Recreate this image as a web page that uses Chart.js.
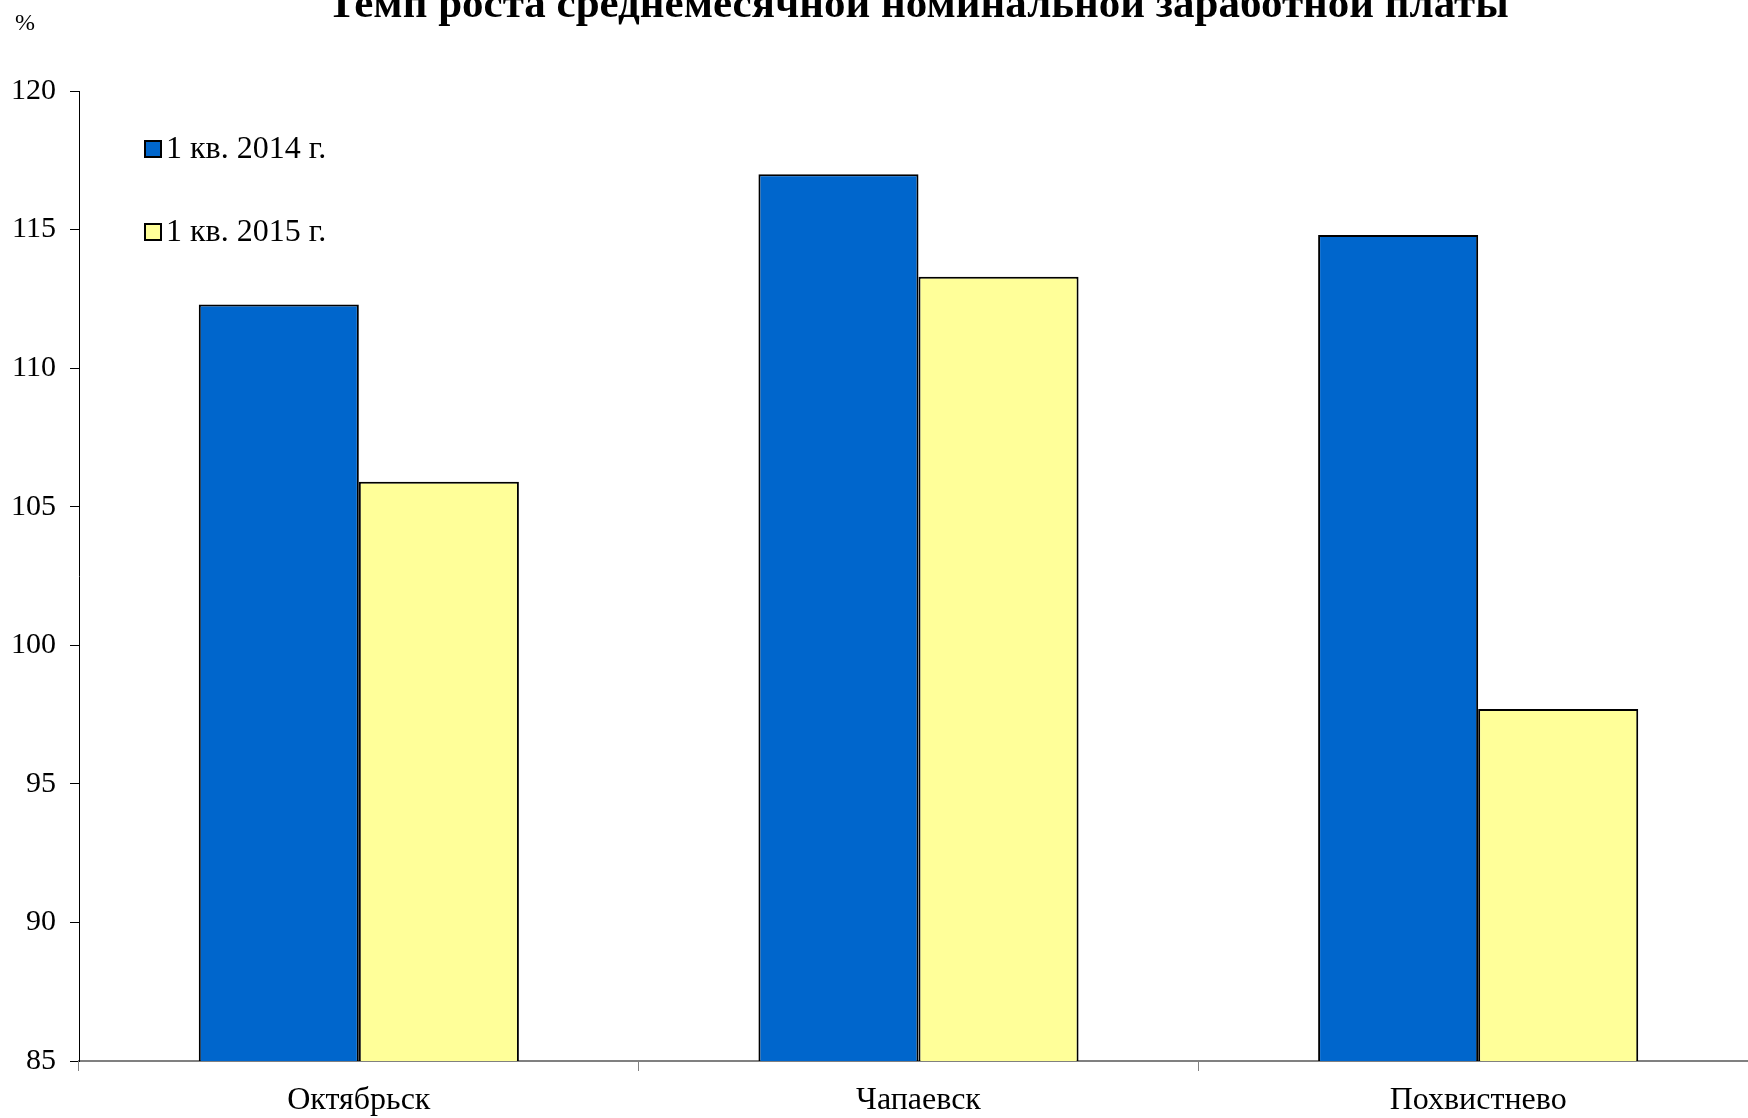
<!DOCTYPE html>
<html>
<head>
<meta charset="utf-8">
<script src="https://cdn.jsdelivr.net/npm/chart.js@4"></script>
<style>
  html, body { margin: 0; padding: 0; background: #fff; overflow: hidden; }
  #wrap { width: 1748px; height: 1118px; overflow: hidden; }
</style>
</head>
<body>
<div id="wrap"><canvas id="wageChart" width="1758" height="1118"></canvas></div>
<script>
const cities = ['Октябрьск', 'Чапаевск', 'Похвистнево'];
const q1_2014 = [112.3, 117.0, 114.8];
const q1_2015 = [105.9, 113.3, 97.7];
const seriesNames = ['1 кв. 2014 г.', '1 кв. 2015 г.'];
const titleText = 'Темп роста среднемесячной номинальной заработной платы';

const FONT = '"Liberation Serif", "Times New Roman", serif';

// title, "%" and the in-plot legend
const decorations = {
    id: 'decorations',
    afterDraw(chart) {
        const ctx = chart.ctx;
        ctx.save();
        ctx.fillStyle = '#000';
        ctx.font = 'bold 43px ' + FONT;
        ctx.textAlign = 'center';
        ctx.textBaseline = 'alphabetic';
        ctx.fillText(titleText, 918, 17);

        ctx.font = '24px ' + FONT;
        ctx.textAlign = 'left';
        ctx.fillText('%', 15, 30);

        ctx.font = '32px ' + FONT;
        ctx.textBaseline = 'middle';
        const rows = [149, 232];
        chart.data.datasets.forEach((ds, i) => {
            const y = rows[i];
            ctx.fillStyle = ds.backgroundColor;
            ctx.fillRect(145, y - 8, 16, 16);
            ctx.strokeStyle = '#000';
            ctx.lineWidth = 2;
            ctx.strokeRect(145, y - 8, 16, 16);
            ctx.fillStyle = '#000';
            ctx.fillText(ds.label, 166, y + 1);
        });
        ctx.restore();
    }
};

new Chart(document.getElementById('wageChart').getContext('2d'), {
    type: 'bar',
    data: {
        labels: cities,
        datasets: [{
            label: seriesNames[0],
            data: q1_2014,
            backgroundColor: '#0066CC',
            borderColor: '#000',
            borderWidth: 2
        }, {
            label: seriesNames[1],
            data: q1_2015,
            backgroundColor: '#FFFF99',
            borderColor: '#000',
            borderWidth: 2
        }]
    },
    options: {
        responsive: false,
        animation: false,
        layout: { padding: { top: 91, right: 0, left: 0, bottom: 0 } },
        datasets: {
            bar: { categoryPercentage: 0.572, barPercentage: 1.0 }
        },
        plugins: {
            legend: { display: false },
            tooltip: { enabled: false }
        },
        scales: {
            x: {
                grid: { display: true, drawOnChartArea: false, tickLength: 10, color: '#808080', offset: true },
                border: { color: '#808080', width: 2 },
                ticks: { color: '#000', font: { family: FONT, size: 32 }, padding: 10 },
                afterFit(scale) { scale.height = 57; }
            },
            y: {
                min: 85,
                max: 120,
                grid: { display: true, drawOnChartArea: false, tickLength: 9, color: '#000' },
                border: { color: '#000', width: 1 },
                ticks: { stepSize: 5, color: '#000', font: { family: FONT, size: 30 }, padding: 14 },
                afterFit(scale) { scale.width = 79; }
            }
        }
    },
    plugins: [decorations]
});
</script>
</body>
</html>
